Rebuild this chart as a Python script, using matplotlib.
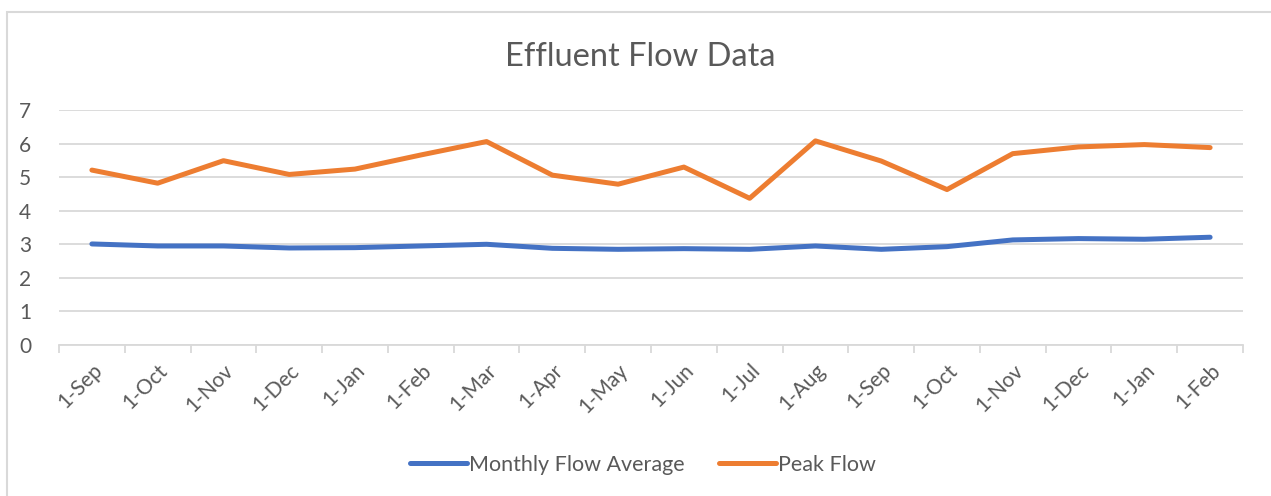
import matplotlib
matplotlib.use("Agg")
import matplotlib.pyplot as plt
from matplotlib.patches import Rectangle
import numpy as np

categories = ["1-Sep", "1-Oct", "1-Nov", "1-Dec", "1-Jan", "1-Feb", "1-Mar", "1-Apr", "1-May",
              "1-Jun", "1-Jul", "1-Aug", "1-Sep", "1-Oct", "1-Nov", "1-Dec", "1-Jan", "1-Feb"]
monthly_avg = [3.01, 2.95, 2.95, 2.89, 2.90, 2.95, 3.00, 2.88, 2.85,
               2.87, 2.85, 2.95, 2.85, 2.93, 3.13, 3.17, 3.15, 3.21]
peak_flow = [5.21, 4.82, 5.49, 5.08, 5.24, 5.66, 6.06, 5.06, 4.79,
             5.30, 4.37, 6.08, 5.48, 4.63, 5.70, 5.90, 5.97, 5.88]
y_ticks = [0, 1, 2, 3, 4, 5, 6, 7]

plt.rcParams['font.family'] = ['Lato', 'DejaVu Sans']
W, H = 1271, 496
fig = plt.figure(figsize=(W / 100, H / 100), dpi=100)
text_col = "#595959"
grid_col = "#d9d9d9"

# chart border (left/top visible)
fig.patches.append(Rectangle((7 / W, -0.1), 1.2, (H - 12) / H + 0.1, transform=fig.transFigure,
                             fill=False, edgecolor="#d9d9d9", linewidth=1.5))

left, right, top, bottom = 59, 1243, 110, 345
ax = fig.add_axes([left / W, 1 - bottom / H, (right - left) / W, (bottom - top) / H])

x = np.arange(len(categories))
ax.plot(x, monthly_avg, color="#4472C4", linewidth=3.6, solid_capstyle='round',
        solid_joinstyle='round', label="Monthly Flow Average", zorder=3)
ax.plot(x, peak_flow, color="#ED7D31", linewidth=3.6, solid_capstyle='round',
        solid_joinstyle='round', label="Peak Flow", zorder=3)

ax.set_xlim(-0.5, len(categories) - 0.5)
ax.set_ylim(0, 7)
ax.set_yticks(y_ticks)
ax.yaxis.grid(True, color=grid_col, linewidth=1.3)
ax.set_axisbelow(True)
for s in ["left", "right", "top"]:
    ax.spines[s].set_visible(False)
ax.spines["bottom"].set_color(grid_col)
ax.spines["bottom"].set_linewidth(1.3)
ax.tick_params(axis='y', length=0, labelsize=15, labelcolor=text_col, pad=20)

ax.set_xticks(x)
ax.set_xticklabels(categories, rotation=45, ha='right', va='top', rotation_mode='anchor')
ax.tick_params(axis='x', which='major', length=0, labelsize=15, labelcolor=text_col, pad=11)
ax.set_xticks(np.arange(-0.5, len(categories), 1.0), minor=True)
ax.tick_params(axis='x', which='minor', length=6, width=1.3, color=grid_col, direction='out')

fig.text(640 / W, 1 - 57 / H, "Effluent Flow Data", ha='center', va='center',
         fontsize=23.5, color=text_col)

leg = fig.legend(loc='center', bbox_to_anchor=(643 / W, 1 - 465 / H), ncol=2, frameon=False,
                 fontsize=15.5, handlelength=2.65, handletextpad=0.1, columnspacing=1.6,
                 labelcolor=text_col)

fig.savefig("out.png", dpi=100)
